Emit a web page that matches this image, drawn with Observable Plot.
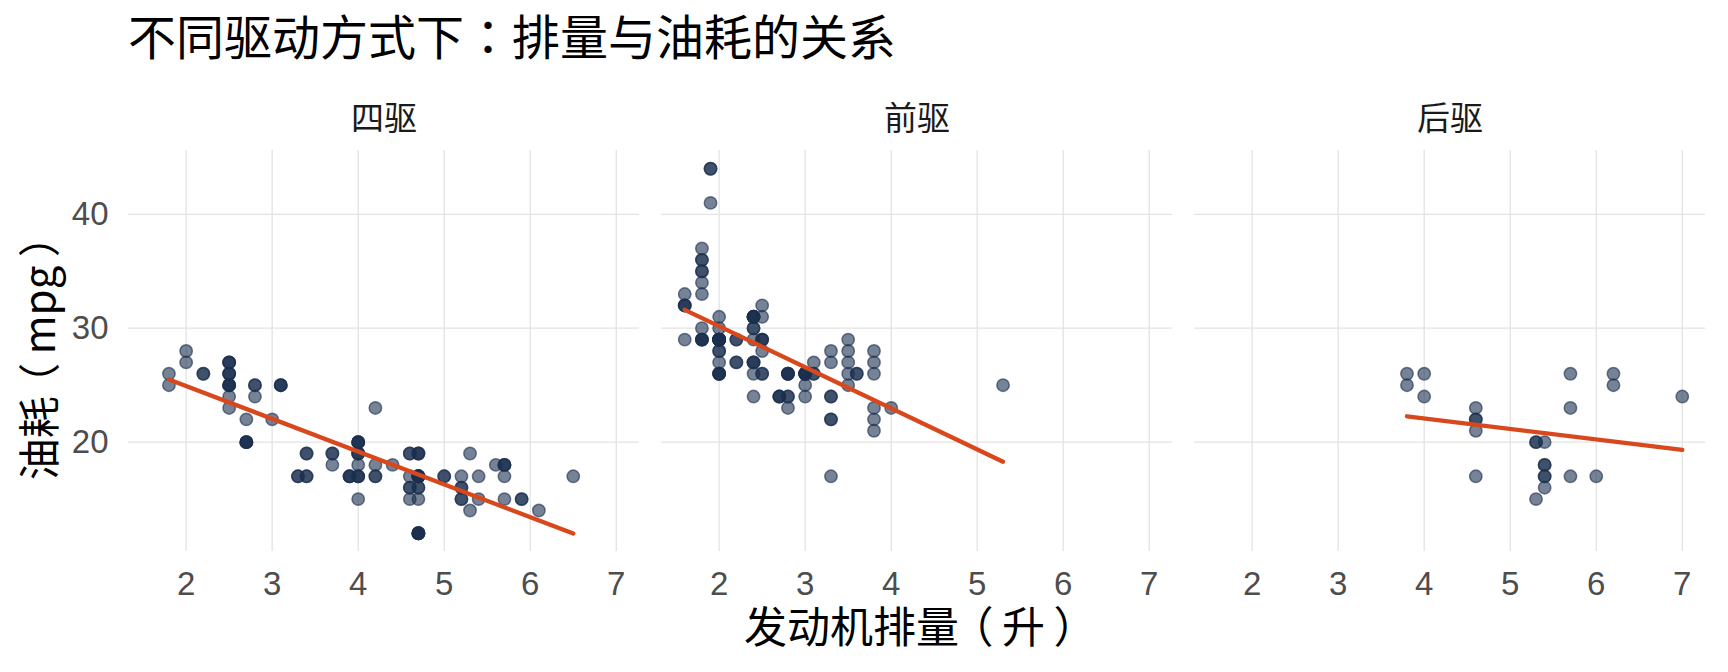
<!DOCTYPE html>
<html>
<head>
<meta charset="utf-8">
<script src="https://cdn.jsdelivr.net/npm/d3@7"></script>
<script src="https://cdn.jsdelivr.net/npm/@observablehq/plot@0.6"></script>
<style>
  html, body { margin: 0; padding: 0; background: #fff; }
  #wrap { position: relative; width: 1728px; height: 672px; overflow: hidden; }
  #title { position: absolute; left: 128px; top: 6px; font-family: "Noto Sans CJK TC", "Noto Sans CJK SC", sans-serif; font-size: 48px; line-height: 1.2; color: #000; white-space: nowrap; }
  #chart { position: absolute; left: 0; top: 80px; }
  #xtitle { position: absolute; left: 0; width: 1728px; padding-left: 104px; box-sizing: border-box; text-align: center; top: 612px; font-family: "Noto Sans CJK SC", sans-serif; font-size: 43px; line-height: 0.6; color: #000; }
  #ytitle { position: absolute; left: 37px; top: 352px; transform: translate(-50%, -50%) rotate(-90deg); font-family: "Noto Sans CJK SC", sans-serif; font-size: 42px; line-height: 1; color: #000; white-space: nowrap; }
  .lp { position: relative; left: -0.2em; }
  .rp { position: relative; left: 0.2em; }
</style>
</head>
<body>
<div id="wrap">
  <div id="title">不同驱动方式下：排量与油耗的关系</div>
  <div id="chart"></div>
  <div id="ytitle">油耗<span class="lp">（</span>mpg<span class="rp">）</span></div>
  <div id="xtitle">发动机排量<span class="lp">（</span>升<span class="rp">）</span></div>
</div>
<script>
// Facet categories
const drvLabels = ["四驱", "前驱", "后驱"];

// 四驱 (4wd)
const fourDispl = [1.8,1.8,2.0,2.0,2.8,2.8,3.1,3.1, 2.8,3.1,4.2, 5.3,5.3,5.7,6.5,
  3.7,3.7,3.9,3.9,4.7,4.7,4.7,5.2,5.2, 3.9,4.7,4.7,4.7,5.2,5.7,5.9,
  4.7,4.7,4.7,4.7,4.7,4.7,5.2,5.2,5.7,5.9, 4.0,4.0,4.0,4.0,4.6,5.0,
  4.2,4.2,4.6,4.6,4.6,5.4,5.4, 3.0,3.7,4.0,4.7,4.7,4.7,5.7,6.1, 4.0,4.2,4.4,4.6,
  4.0,4.0,4.6,5.0, 3.3,3.3,4.0,5.6, 2.5,2.5,2.5,2.5,2.5,2.5,
  2.2,2.2,2.5,2.5,2.5,2.5,2.5,2.5, 2.7,2.7,3.4,3.4,4.0,4.7, 4.7,5.7,
  2.7,2.7,2.7,3.4,3.4,4.0,4.0];
const fourHwy = [26,25,28,27,25,25,25,25, 24,25,23, 19,14,15,17,
  19,18,17,17,19,19,12,17,15, 17,17,12,17,16,18,15,
  16,12,17,17,16,12,15,16,17,15, 17,19,17,19,19,17,
  17,17,16,16,17,15,17, 22,19,20,17,12,19,18,14, 15,18,18,15,
  17,19,19,17, 17,17,20,18, 25,24,27,25,26,23,
  26,26,26,26,27,25,25,27, 20,20,19,17,20,17, 15,18,
  20,20,22,17,19,18,20];

// 前驱 (front)
const frontDispl = [1.8,1.8,2.0,2.0,2.8,2.8,3.1, 2.4,2.4,3.1,3.5,3.6,
  2.4,3.0,3.3,3.3,3.3,3.3,3.3,3.8,3.8,3.8,4.0,
  1.6,1.6,1.6,1.6,1.6,1.8,1.8,1.8,2.0, 2.4,2.4,2.4,2.4,2.5,2.5,3.3,
  2.0,2.0,2.0,2.0,2.7,2.7,2.7, 2.4,2.4,2.5,2.5,3.5,3.5, 3.0,3.0,3.5,
  3.1,3.8,3.8,3.8,5.3, 2.2,2.2,2.4,2.4,3.0,3.0,3.5, 2.2,2.2,2.4,2.4,3.0,3.0,3.3,
  1.8,1.8,1.8,1.8,1.8, 2.0,2.0,2.0,2.0,2.8, 1.9,2.0,2.0,2.0,2.0,2.5,2.5,2.8,2.8,
  1.9,1.9,2.0,2.0,2.5,2.5, 1.8,1.8,2.0,2.0,2.8,2.8,3.6];
const frontHwy = [29,29,31,30,26,26,27, 27,30,26,29,26,
  24,24,22,22,24,24,17,22,21,23,23,
  33,32,32,29,32,34,36,36,29, 26,27,30,31,26,26,28,
  26,29,28,27,24,24,24, 29,27,31,32,27,26, 26,25,25,
  26,26,27,28,25, 29,27,31,31,26,26,28, 27,29,31,31,26,26,27,
  30,33,35,37,35, 29,26,29,29,24, 44,29,26,29,29,29,29,23,24,
  44,41,29,26,28,29, 29,29,28,29,26,26,26];

// 后驱 (rear)
const rearDispl = [5.3,5.3,5.3,5.7,6.0, 5.7,5.7,6.2,6.2,7.0, 4.6,5.4,5.4,
  3.8,3.8,4.0,4.0,4.6,4.6,4.6,4.6,5.4, 5.4,5.4,5.4];
const rearHwy = [20,15,20,17,17, 26,23,26,25,24, 17,17,18,
  26,25,26,24,21,22,23,22,20, 17,16,18];

// Tick values
const xTicks = [2, 3, 4, 5, 6, 7];
const yTicks = [20, 30, 40];

const rows = [
  ...fourDispl.map((d, i) => ({drv: drvLabels[0], displ: d, hwy: fourHwy[i]})),
  ...frontDispl.map((d, i) => ({drv: drvLabels[1], displ: d, hwy: frontHwy[i]})),
  ...rearDispl.map((d, i) => ({drv: drvLabels[2], displ: d, hwy: rearHwy[i]}))
];

const pointColor = "#1b2f4f";
const lineColor = "#d9481c";
const gridColor = "#e3e3e3";

const chart = Plot.plot({
  width: 1728,
  height: 592,
  marginLeft: 127,
  marginRight: 22,
  marginTop: 70,
  marginBottom: 121,
  style: {fontFamily: "'Liberation Sans', Arial, sans-serif", background: "transparent"},
  fx: {domain: drvLabels, paddingInner: 0.0405, paddingOuter: 0},
  x: {domain: [1.33, 7.27]},
  y: {domain: [10.4, 45.6]},
  marks: [
    Plot.gridX(xTicks, {stroke: gridColor, strokeOpacity: 1, strokeWidth: 1.3}),
    Plot.gridY(yTicks, {stroke: gridColor, strokeOpacity: 1, strokeWidth: 1.3}),
    Plot.axisFx({anchor: "top", label: null, tickSize: 0, tickPadding: 21, fontSize: 33,
      fontFamily: "'Noto Sans CJK SC', sans-serif", color: "#1a1a1a"}),
    Plot.axisX(xTicks, {tickSize: 0, tickPadding: 20, fontSize: 33, label: null, color: "#4d4d4d"}),
    Plot.axisY(yTicks, {tickSize: 0, tickPadding: 20, fontSize: 33, label: null, color: "#4d4d4d"}),
    Plot.dot(rows, {x: "displ", y: "hwy", fx: "drv", r: 6.2, fill: pointColor, fillOpacity: 0.6,
      stroke: pointColor, strokeOpacity: 0.6, strokeWidth: 1.5}),
    Plot.linearRegressionY(rows, {x: "displ", y: "hwy", fx: "drv", ci: 0, stroke: lineColor, strokeWidth: 4.3})
  ]
});
document.getElementById("chart").appendChild(chart);
</script>
</body>
</html>
